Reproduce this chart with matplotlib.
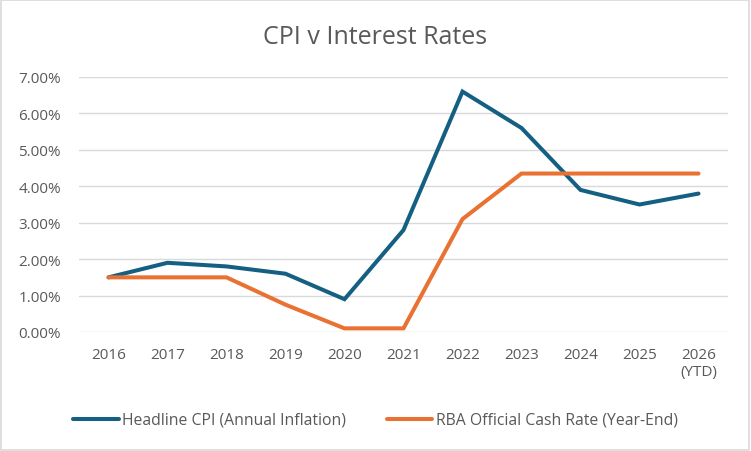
import matplotlib.pyplot as plt
from matplotlib.ticker import FuncFormatter

plt.rcParams['font.family'] = ['Open Sans', 'DejaVu Sans']

years = ['2016', '2017', '2018', '2019', '2020', '2021', '2022', '2023', '2024', '2025', '2026\n(YTD)']
cpi = [1.5, 1.9, 1.8, 1.6, 0.9, 2.8, 6.6, 5.6, 3.9, 3.5, 3.8]
cash_rate = [1.5, 1.5, 1.5, 0.75, 0.1, 0.1, 3.1, 4.35, 4.35, 4.35, 4.35]

fig = plt.figure(figsize=(7.51, 4.52), dpi=100)
ax = fig.add_axes([79 / 751, 1 - 333 / 452, (728 - 79) / 751, (333 - 78) / 452])

x = range(len(years))
ax.plot(x, cpi, color='#156082', lw=2.9, solid_capstyle='round', solid_joinstyle='miter',
        label='Headline CPI (Annual Inflation)')
ax.plot(x, cash_rate, color='#E97132', lw=2.9, solid_capstyle='round', solid_joinstyle='miter',
        label='RBA Official Cash Rate (Year-End)')

ax.set_xlim(-0.5, len(years) - 0.5)
ax.set_ylim(0, 7)
ax.set_yticks(range(0, 8))
ax.yaxis.set_major_formatter(FuncFormatter(lambda v, p: f'{v:.2f}%'))
ax.set_xticks(list(x))
ax.set_xticklabels(years)
ax.grid(axis='y', color='#D9D9D9', lw=1)
ax.set_axisbelow(True)
for s in ax.spines.values():
    s.set_visible(False)
ax.tick_params(length=0, labelsize=11, colors='#595959', pad=11)
ax.tick_params(axis='y', pad=13)

fig.text(0.5, 1 - 37 / 452, 'CPI v Interest Rates', ha='center', va='center',
         fontsize=18, color='#595959')

fig.legend(loc='center', bbox_to_anchor=(0.5, 1 - 421 / 452), ncol=2, frameon=False,
           fontsize=11.3, labelcolor='#595959', handlelength=2.9, handletextpad=0.2,
           columnspacing=2.6)

border = plt.Rectangle((0.001, 0.002), 0.997, 0.995, transform=fig.transFigure,
                       fill=False, edgecolor='#D9D9D9', lw=1.2)
fig.patches.append(border)

fig.savefig('out.png', dpi=100)
